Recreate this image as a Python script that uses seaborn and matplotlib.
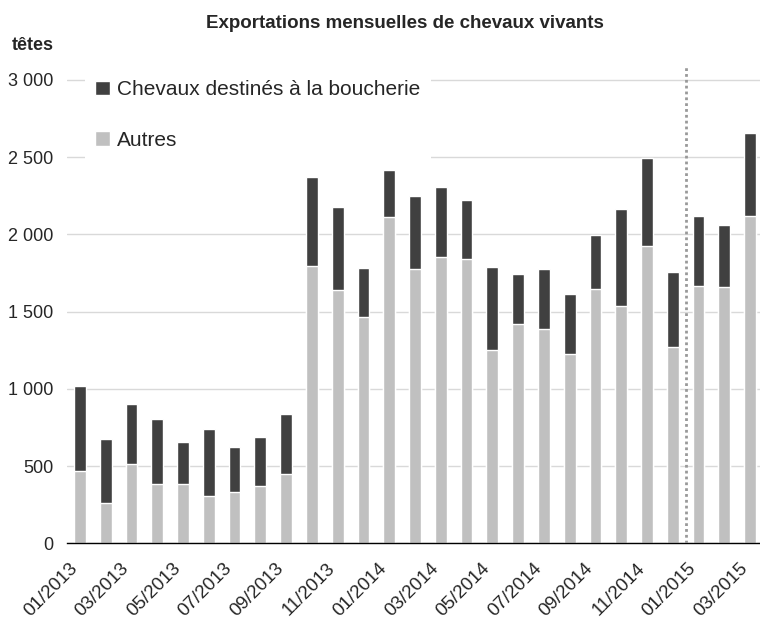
import numpy as np
import pandas as pd
import matplotlib
matplotlib.use('Agg')
import matplotlib.pyplot as plt
import matplotlib.transforms as mtransforms
import seaborn as sns

months = ['01/2013', '02/2013', '03/2013', '04/2013', '05/2013', '06/2013', '07/2013', '08/2013', '09/2013',
          '10/2013', '11/2013', '12/2013', '01/2014', '02/2014', '03/2014', '04/2014', '05/2014', '06/2014',
          '07/2014', '08/2014', '09/2014', '10/2014', '11/2014', '12/2014', '01/2015', '02/2015', '03/2015']
autres = [468, 260, 513, 383, 383, 305, 331, 370, 448, 1794, 1638, 1463, 2113, 1775, 1853, 1840,
          1249, 1418, 1385, 1223, 1645, 1535, 1924, 1268, 1664, 1658, 2119]
boucherie = [552, 415, 390, 422, 273, 435, 292, 318, 390, 578, 539, 318, 305, 474, 454, 383,
             539, 324, 390, 389, 351, 629, 572, 487, 455, 403, 539]
yticks = [0, 500, 1000, 1500, 2000, 2500, 3000]

sns.set_style('white')
plt.rcParams['font.family'] = ['Liberation Sans', 'DejaVu Sans']

df = pd.DataFrame({'mois': months, 'autres': autres, 'boucherie': boucherie})
df['total'] = df['autres'] + df['boucherie']

dark = '#404040'
light = '#c0c0c0'

fig = plt.figure(figsize=(7.6, 6.23), dpi=100)
ax = fig.add_axes([67 / 760, 1 - 543.3 / 623, 696 / 760, 476.3 / 623])

sns.barplot(data=df, x='mois', y='total', color=dark, saturation=1, width=0.46,
            label='Chevaux destinés à la boucherie', ax=ax)
sns.barplot(data=df, x='mois', y='autres', color=light, saturation=1, width=0.46,
            label='Autres', ax=ax)

# limite entre 2014 et 2015
ax.axvline(23.5, color='#999999', lw=2, ls=(0, (1.0, 1.1)), zorder=3)

ax.set_xlim(-0.5, 26.5)
ax.set_ylim(0, 3084)
ax.set_yticks(yticks)
ax.set_yticklabels([f'{v:,}'.replace(',', ' ') for v in yticks], fontsize=13)
ax.yaxis.grid(True, color='#d9d9d9', lw=1)
ax.set_axisbelow(True)
ax.tick_params(axis='y', length=0, pad=10)

major = list(range(0, len(months), 2))
ax.set_xticks(major)
ax.set_xticklabels([months[i] for i in major], rotation=45, ha='right',
                   rotation_mode='anchor', fontsize=13.5)
ax.set_xticks(np.arange(-0.5, len(months), 1), minor=True)
ax.tick_params(axis='x', which='major', length=0, pad=12)
ax.tick_params(axis='x', which='minor', length=3, width=1, color='black', direction='out')
shift = mtransforms.ScaledTranslation(-0.11, 0, fig.dpi_scale_trans)
for lab in ax.get_xticklabels():
    lab.set_transform(lab.get_transform() + shift)

for s in ['left', 'top', 'right']:
    ax.spines[s].set_visible(False)
ax.spines['bottom'].set_color('black')
ax.spines['bottom'].set_linewidth(1)
ax.set_xlabel('')
ax.set_ylabel('')

ax.legend(loc='upper left', bbox_to_anchor=(85 / 760, 1 - 70 / 623), bbox_transform=fig.transFigure,
          fontsize=15, frameon=True, facecolor='white', edgecolor='none', framealpha=1,
          handlelength=0.7, handleheight=0.7, handletextpad=0.35, labelspacing=1.5,
          borderpad=0.5, borderaxespad=0, fancybox=False)

fig.text(405 / 760, 1 - 23 / 623, 'Exportations mensuelles de chevaux vivants',
         ha='center', va='center', fontsize=13.5, fontweight='bold')
fig.text(12 / 760, 1 - 45 / 623, 'têtes', ha='left', va='center', fontsize=13, fontweight='bold')

fig.savefig('out.png', dpi=100)
